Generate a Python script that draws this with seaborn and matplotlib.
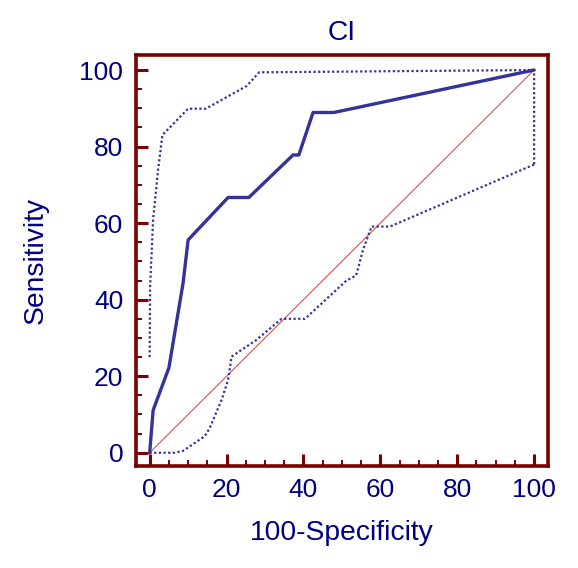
import numpy as np
import pandas as pd
import matplotlib
matplotlib.use("Agg")
import matplotlib.pyplot as plt
import seaborn as sns
from matplotlib.ticker import MultipleLocator

# ROC curve (100-Specificity vs Sensitivity)
roc_x = [0, 0.9, 5.0, 8.7, 10.0, 20.4, 25.8, 37.3, 38.8, 42.5, 47.9, 100]
roc_y = [0, 11.1, 22.2, 44.4, 55.6, 66.7, 66.7, 77.8, 77.8, 88.9, 88.9, 100]

# confidence band, upper part
ci_up_x = [0, 0.1, 0.9, 2.2, 3.3, 10.0, 14.6, 25.2, 28.5, 100, 100]
ci_up_y = [25, 43, 61, 74, 83, 89.9, 89.9, 95.8, 99.4, 100, 75.3]

# confidence band, lower part
ci_lo_x = [100, 62.5, 57.7, 55.5, 53.7, 51.2, 40.4, 34.3, 27.8, 22.6, 21.3,
           20.4, 18.7, 15.6, 14.3, 8.7, 6.5, 0]
ci_lo_y = [75.3, 59.1, 59.1, 53.0, 46.3, 45.0, 35.0, 35.0, 29.5, 26.0, 25.1,
           19.0, 13.8, 6.4, 4.3, 0.5, 0, 0]

diag = [0, 100]

sns.set_style("white")
plt.rcParams['font.family'] = ['Liberation Sans', 'DejaVu Sans']

navy = "#000080"
line_blue = "#333399"
frame = "#7b0000"

fig = plt.figure(figsize=(5.78, 5.68), dpi=100)
ax = fig.add_axes([0.235, 0.180, 0.713, 0.723])

sns.lineplot(x=diag, y=diag, ax=ax, color="#d04040", lw=0.7, sort=False, estimator=None)
sns.lineplot(x=ci_up_x, y=ci_up_y, ax=ax, color=line_blue, lw=1.6, sort=False,
             estimator=None, dashes=False)
sns.lineplot(x=ci_lo_x, y=ci_lo_y, ax=ax, color=line_blue, lw=1.6, sort=False,
             estimator=None, dashes=False)
for l in ax.lines[1:3]:
    l.set_dashes([1, 1.1])
sns.lineplot(x=roc_x, y=roc_y, ax=ax, color=line_blue, lw=2.4, sort=False, estimator=None)

ax.set_xlim(-3.6, 103.6)
ax.set_ylim(-3.4, 103.9)
ax.xaxis.set_major_locator(MultipleLocator(20))
ax.xaxis.set_minor_locator(MultipleLocator(5))
ax.yaxis.set_major_locator(MultipleLocator(20))
ax.yaxis.set_minor_locator(MultipleLocator(5))

for s in ax.spines.values():
    s.set_color(frame)
    s.set_linewidth(2.6)

ax.tick_params(which="major", direction="in", length=8.5, width=2.2, color=frame,
               labelsize=19, labelcolor=navy, pad=9, bottom=True, left=True)
ax.tick_params(which="minor", direction="in", length=4, width=1.4, color=frame,
               bottom=True, left=True)

ax.set_xlabel("100-Specificity", fontsize=20.3, color=navy, labelpad=13)
ax.set_ylabel("Sensitivity", fontsize=20.3, color=navy, labelpad=22)
ax.set_title("CI", fontsize=20.3, color=navy, pad=11)

fig.savefig("out.png", dpi=100)
